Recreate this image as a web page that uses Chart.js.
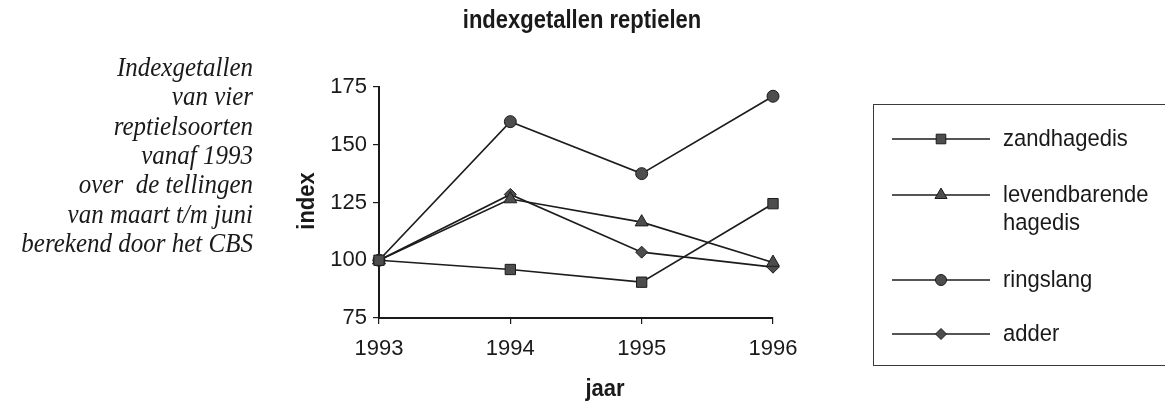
<!DOCTYPE html>
<html>
<head>
<meta charset="utf-8">
<script src="https://cdn.jsdelivr.net/npm/chart.js@4.4.1/dist/chart.umd.min.js"></script>
<style>
  html, body { margin: 0; padding: 0; background: #ffffff; }
  #wrap { width: 1165px; height: 404px; position: relative; }
</style>
</head>
<body>
<div id="wrap"><canvas id="c" width="1165" height="404"></canvas></div>
<script>
// ---- data ----
const years = ['1993', '1994', '1995', '1996'];
const seriesNames = ['zandhagedis', 'levendbarende hagedis', 'ringslang', 'adder'];
const zandhagedis = [100, 96, 90.5, 124.5];
const levendbarendeHagedis = [100, 126.5, 116.5, 99];
const ringslang = [100, 160, 137.5, 171];
const adder = [100, 128.5, 103.5, 97];
const yTicks = [75, 100, 125, 150, 175];

const chartTitle = 'indexgetallen reptielen';
const xTitle = 'jaar';
const yTitle = 'index';
const sideText = [
  'Indexgetallen',
  'van vier',
  'reptielsoorten',
  'vanaf 1993',
  'over  de tellingen',
  'van maart t/m juni',
  'berekend door het CBS'
];

// ---- styles ----
const LINE = '#1c1c1c';
const FILL = '#4d4d4d';
const SANS = '"Liberation Sans", Arial, Helvetica, sans-serif';
const SERIF = '"Liberation Serif", "Times New Roman", serif';
const styles = [
  { pointStyle: 'rect', radius: 7.3 },
  { pointStyle: 'triangle', radius: 7.5 },
  { pointStyle: 'circle', radius: 6 },
  { pointStyle: 'rectRot', radius: 6 }
];
const values = [zandhagedis, levendbarendeHagedis, ringslang, adder];

const datasets = values.map((v, i) => ({
  label: seriesNames[i],
  data: v,
  borderColor: LINE,
  borderWidth: 1.7,
  backgroundColor: FILL,
  pointBackgroundColor: FILL,
  pointBorderColor: LINE,
  pointBorderWidth: 1,
  pointStyle: styles[i].pointStyle,
  pointRadius: styles[i].radius,
  pointHoverRadius: styles[i].radius,
  tension: 0,
  fill: false
}));

function drawMarker(ctx, style, radius, x, y) {
  const opts = { pointStyle: style, radius: radius, rotation: 0, borderWidth: 1 };
  ctx.save();
  ctx.fillStyle = FILL;
  ctx.strokeStyle = LINE;
  ctx.lineWidth = 1;
  if (Chart.helpers && Chart.helpers.drawPoint) {
    Chart.helpers.drawPoint(ctx, opts, x, y);
  } else {
    ctx.beginPath();
    ctx.arc(x, y, radius, 0, Math.PI * 2);
    ctx.fill(); ctx.stroke();
  }
  ctx.restore();
}

// draw text stretched vertically (the scanned original has tall glyphs)
function tallText(ctx, text, x, y, sy) {
  ctx.save();
  ctx.translate(x, y);
  ctx.scale(1, sy);
  ctx.fillText(text, 0, 0);
  ctx.restore();
}

const decorPlugin = {
  id: 'decor',
  afterDraw(chart) {
    const ctx = chart.ctx;
    ctx.save();
    ctx.fillStyle = '#1a1a1a';

    // main title
    ctx.font = 'bold 22px ' + SANS;
    ctx.textAlign = 'center';
    ctx.textBaseline = 'alphabetic';
    tallText(ctx, chartTitle, 582, 28, 1.15);

    // x axis title
    tallText(ctx, xTitle, 605, 396, 1.1);

    // y axis title (rotated)
    ctx.save();
    ctx.translate(314, 201);
    ctx.rotate(-Math.PI / 2);
    ctx.scale(1, 1.1);
    ctx.textAlign = 'center';
    ctx.fillText(yTitle, 0, 0);
    ctx.restore();

    // side paragraph
    ctx.font = 'italic 25px ' + SERIF;
    ctx.textAlign = 'right';
    sideText.forEach((t, i) => {
      tallText(ctx, t, 253, 76 + i * 29.3, 1.06);
    });

    // legend box
    ctx.strokeStyle = '#3a3a3a';
    ctx.lineWidth = 1;
    ctx.strokeRect(873.5, 104.5, 300, 261);

    ctx.font = '22px ' + SANS;
    ctx.textAlign = 'left';
    ctx.textBaseline = 'middle';
    const rows = [139, 195, 280, 334];
    chart.data.datasets.forEach((ds, i) => {
      const y = rows[i];
      ctx.strokeStyle = LINE;
      ctx.lineWidth = 1.4;
      ctx.beginPath();
      ctx.moveTo(892, y);
      ctx.lineTo(990, y);
      ctx.stroke();
      drawMarker(ctx, ds.pointStyle, ds.pointRadius - 0.5, 941, y);
      // wrap label to legend width
      const words = ds.label.split(' ');
      const lines = [];
      let cur = '';
      words.forEach(w => {
        const test = cur ? cur + ' ' + w : w;
        if (ctx.measureText(test).width > 155 && cur) { lines.push(cur); cur = w; }
        else cur = test;
      });
      lines.push(cur);
      ctx.fillStyle = '#1a1a1a';
      lines.forEach((ln, k) => tallText(ctx, ln, 1003, y + k * 28, 1.12));
    });
    ctx.restore();
  }
};

new Chart(document.getElementById('c'), {
  type: 'line',
  data: { labels: years, datasets: datasets },
  plugins: [decorPlugin],
  options: {
    responsive: false,
    animation: false,
    layout: { padding: { left: 319, right: 392, top: 87, bottom: 30 } },
    plugins: {
      legend: { display: false },
      title: { display: false },
      tooltip: { enabled: false }
    },
    scales: {
      x: {
        type: 'category',
        offset: false,
        grid: { display: true, drawOnChartArea: false, drawTicks: true, tickLength: 6, color: '#1a1a1a', lineWidth: 1.2 },
        border: { display: true, color: '#1a1a1a', width: 2 },
        ticks: { color: '#1a1a1a', font: { family: SANS, size: 22 }, padding: 12, maxRotation: 0 },
        afterFit(scale) { scale.height = 56; }
      },
      y: {
        min: 75,
        max: 175,
        afterBuildTicks(scale) { scale.ticks = yTicks.map(v => ({ value: v })); },
        grid: { display: true, drawOnChartArea: false, drawTicks: true, tickLength: 6, color: '#1a1a1a', lineWidth: 1.2 },
        border: { display: true, color: '#1a1a1a', width: 2 },
        ticks: { color: '#1a1a1a', font: { family: SANS, size: 22 }, padding: 6 },
        afterFit(scale) { scale.width = 60; }
      }
    }
  }
});
</script>
</body>
</html>
